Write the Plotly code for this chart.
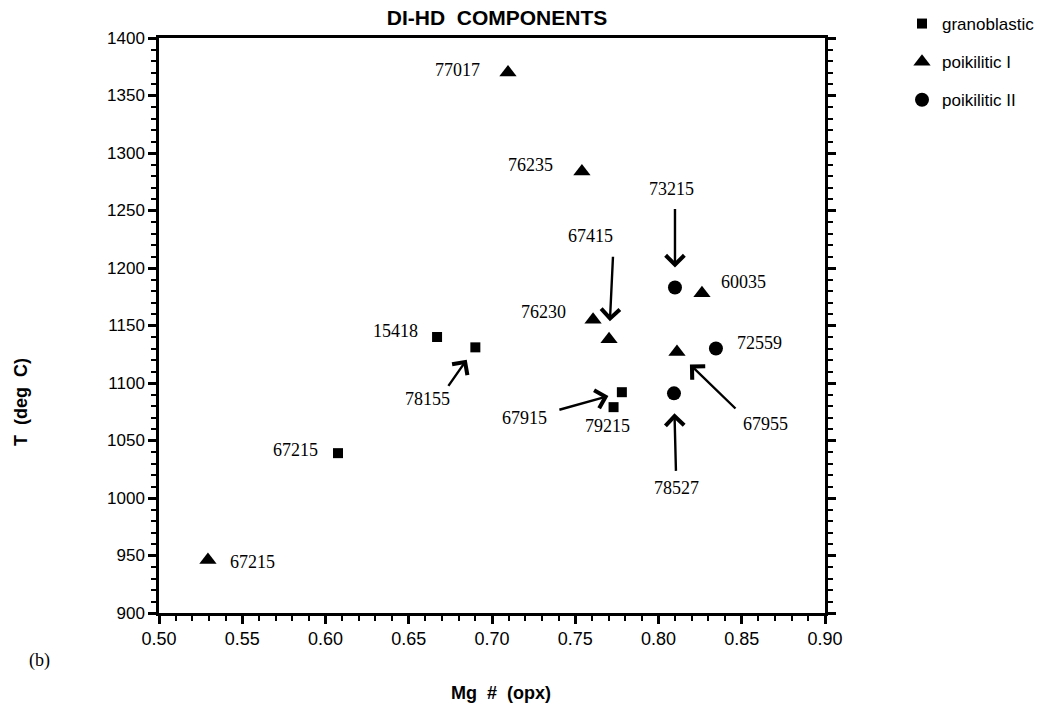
import plotly.graph_objects as go

# ---- data ----
gran_x = [0.667, 0.690, 0.6075, 0.778, 0.773]
gran_y = [1140, 1131, 1039, 1092, 1079]
gran_lab = ["15418", "78155", "67215", "67915", "79215"]

p1_x = [0.7096, 0.754, 0.7607, 0.7703, 0.8261, 0.8111, 0.5294]
p1_y = [1370, 1284, 1155, 1138, 1178, 1127, 946]
p1_lab = ["77017", "76235", "76230", "67415", "60035", "67955", "67215"]

p2_x = [0.8099, 0.8345, 0.8093]
p2_y = [1183, 1130, 1091]
p2_lab = ["73215", "72559", "78527"]

x_ticks = [0.50, 0.55, 0.60, 0.65, 0.70, 0.75, 0.80, 0.85, 0.90]
y_ticks = [900, 950, 1000, 1050, 1100, 1150, 1200, 1250, 1300, 1350, 1400]

# ---- label styling: (xanchor, xshift, yshift) ----
gran_style = [("right", -17, 6), ("center", -48, -52), ("right", -18, 3),
              ("center", -97, -26), ("center", -6, -19)]
p1_style = [("right", -26, 3), ("right", -27, 6), ("right", -25, 8),
            ("center", -19, 103), ("left", 17, 11), ("center", 89, -72),
            ("left", 20, -2)]
p2_style = [("center", -3, 99), ("left", 19, 6), ("center", 3, -95)]

# arrows: (series, index, ax, ay, standoff)
arrows = [("g", 1, -28, 40, 15), ("g", 3, -64, 18, 14),
          ("p1", 3, 4, -84, 18), ("p1", 5, 60, 58, 18),
          ("p2", 0, 0, -80, 20), ("p2", 2, 2, 79, 20)]

fig = go.Figure()
fig.add_trace(go.Scatter(x=gran_x, y=gran_y, mode="markers", name="granoblastic",
                         legendgroup="a",
                         marker=dict(symbol="square", size=10, color="black")))
fig.add_trace(go.Scatter(x=p1_x, y=p1_y, mode="markers", name="poikilitic I",
                         legendgroup="b",
                         marker=dict(symbol="triangle-up", size=15, color="black")))
fig.add_trace(go.Scatter(x=p2_x, y=p2_y, mode="markers", name="poikilitic II",
                         legendgroup="c",
                         marker=dict(symbol="circle", size=14, color="black")))

serif = dict(family="Liberation Serif", size=18, color="black")
series = {"g": (gran_x, gran_y, gran_lab, gran_style),
          "p1": (p1_x, p1_y, p1_lab, p1_style),
          "p2": (p2_x, p2_y, p2_lab, p2_style)}
for key, (xs, ys, labs, sty) in series.items():
    for xv, yv, lab, (anc, xs_, ys_) in zip(xs, ys, labs, sty):
        fig.add_annotation(x=xv, y=yv, xref="x", yref="y", text=lab,
                           showarrow=False, xanchor=anc, yanchor="middle",
                           xshift=xs_, yshift=ys_, font=serif)

for key, i, ax, ay, so in arrows:
    xs, ys = series[key][0], series[key][1]
    fig.add_annotation(x=xs[i], y=ys[i], xref="x", yref="y", text="",
                       showarrow=True, ax=ax, ay=ay, standoff=so,
                       arrowhead=4, arrowsize=1.5, arrowwidth=2.4,
                       arrowcolor="black")

sans = "Liberation Sans"
# panel letter and axis titles (paper coordinates)
fig.add_annotation(x=(39 - 159) / 666, y=(613 - 660) / 575, xref="paper",
                   yref="paper", text="(b)", showarrow=False,
                   xanchor="center", yanchor="middle", font=serif)
fig.add_annotation(x=(21 - 159) / 666, y=(613 - 402) / 575, xref="paper",
                   yref="paper", text="<b>T  (deg  C)</b>", textangle=-90,
                   showarrow=False, xanchor="center", yanchor="middle",
                   font=dict(family=sans, size=18, color="black"))
fig.add_annotation(x=(501 - 159) / 666, y=(613 - 693) / 575, xref="paper",
                   yref="paper", text="<b>Mg  #  (opx)</b>",
                   showarrow=False, xanchor="center", yanchor="middle",
                   font=dict(family=sans, size=18, color="black"))

fig.update_layout(
    width=1050, height=710,
    margin=dict(l=159, r=225, t=38, b=97),
    paper_bgcolor="white", plot_bgcolor="white",
    title=dict(text="<b>DI-HD  COMPONENTS</b>", x=497 / 1050, xanchor="center",
               y=1 - 18 / 710, yanchor="middle",
               font=dict(family=sans, size=21, color="black")),
    showlegend=True,
    legend=dict(x=902 / 1050, y=1 - 6 / 710, xref="container", yref="container",
                xanchor="left", yanchor="top",
                font=dict(family=sans, size=17, color="black"),
                tracegroupgap=13, bgcolor="rgba(0,0,0,0)"),
    xaxis=dict(range=[0.5, 0.9], tickvals=x_ticks,
               ticktext=[f"{v:.2f}" for v in x_ticks],
               showgrid=False, zeroline=False,
               showline=True, linecolor="black", linewidth=2.5, mirror=True,
               ticks="outside", ticklen=8, tickwidth=2.5, tickcolor="black",
               minor=dict(dtick=0.01, ticks="outside", ticklen=5, tickwidth=2,
                          tickcolor="black"),
               tickfont=dict(family=sans, size=18, color="black")),
    yaxis=dict(range=[900, 1400], tickvals=y_ticks,
               showgrid=False, zeroline=False,
               showline=True, linecolor="black", linewidth=2.5, mirror="ticks",
               ticks="outside", ticklen=8, tickwidth=2.5, tickcolor="black",
               minor=dict(dtick=10, ticks="outside", ticklen=5, tickwidth=2,
                          tickcolor="black"),
               tickfont=dict(family=sans, size=17, color="black")),
)

fig.write_html("out.html")
